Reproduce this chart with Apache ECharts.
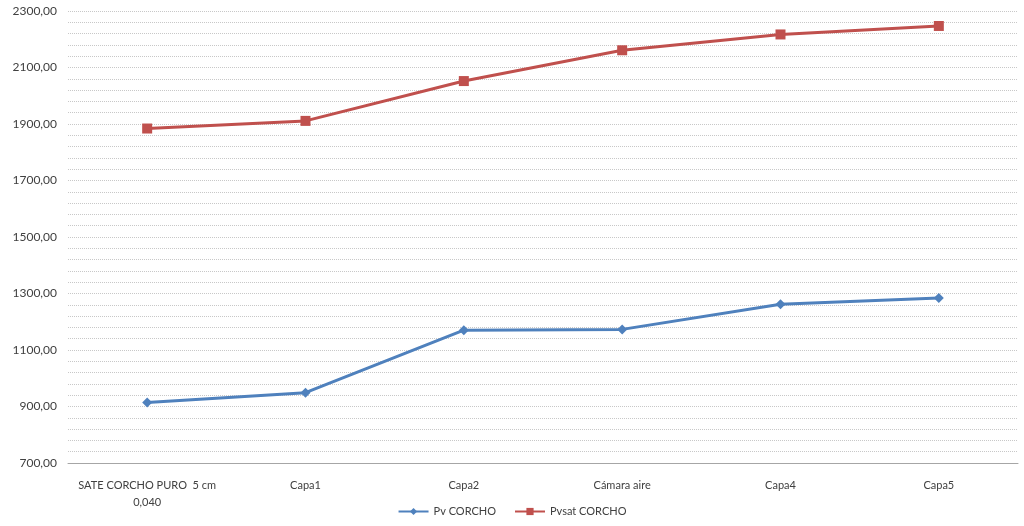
<!DOCTYPE html>
<html>
<head>
<meta charset="utf-8">
<script src="https://cdn.jsdelivr.net/npm/echarts@6/dist/echarts.min.js"></script>
<style>
html,body{margin:0;padding:0;background:#fff;}
#chart{width:1024px;height:526px;}
</style>
</head>
<body>
<div id="chart"></div>
<script>
const categories = ['SATE CORCHO PURO  5 cm\n0,040', 'Capa1', 'Capa2', 'Cámara aire', 'Capa4', 'Capa5'];
const pvCorcho = [914, 949, 1170, 1173, 1262, 1284];
const pvsatCorcho = [1884, 1911, 2052, 2161, 2217, 2247];
const seriesNames = ['Pv CORCHO', 'Pvsat CORCHO'];
const yMin = 700, yMax = 2300, yStep = 200;

const chart = echarts.init(document.getElementById('chart'));
const font = 'Lato, "Open Sans", sans-serif';
chart.setOption({
  animation: false,
  backgroundColor: '#ffffff',
  grid: { left: 68, right: 6, top: 11, bottom: 63, containLabel: false },
  legend: {
    bottom: 4,
    left: 'center',
    itemWidth: 30,
    itemHeight: 9,
    itemGap: 18,
    textStyle: { fontFamily: font, fontSize: 11, color: '#404040' },
    data: seriesNames
  },
  xAxis: {
    type: 'category',
    data: categories,
    boundaryGap: true,
    axisLine: { lineStyle: { color: '#a6a6a6', width: 1 } },
    axisTick: { show: false },
    axisLabel: { interval: 0, margin: 14, fontFamily: font, fontSize: 11, color: '#404040', lineHeight: 17 }
  },
  yAxis: {
    type: 'value',
    min: yMin, max: yMax, interval: yStep,
    axisLine: { show: false },
    axisTick: { show: false },
    axisLabel: {
      margin: 11, fontFamily: font, fontSize: 12, color: '#404040',
      formatter: v => v.toFixed(2).replace('.', ',')
    },
    splitLine: { lineStyle: { color: '#c8c8c8', type: [1, 1], width: 1 } },
    minorTick: { show: false, splitNumber: 5 },
    minorSplitLine: { show: true, lineStyle: { color: '#c8c8c8', type: [1, 1], width: 1 } }
  },
  series: [
    {
      name: seriesNames[0], type: 'line', data: pvCorcho,
      symbol: 'diamond', symbolSize: 10,
      lineStyle: { color: '#4f81bd', width: 3 },
      itemStyle: { color: '#4f81bd' }
    },
    {
      name: seriesNames[1], type: 'line', data: pvsatCorcho,
      symbol: 'rect', symbolSize: 10,
      lineStyle: { color: '#c0504d', width: 3 },
      itemStyle: { color: '#c0504d' }
    }
  ]
});
</script>
</body>
</html>
